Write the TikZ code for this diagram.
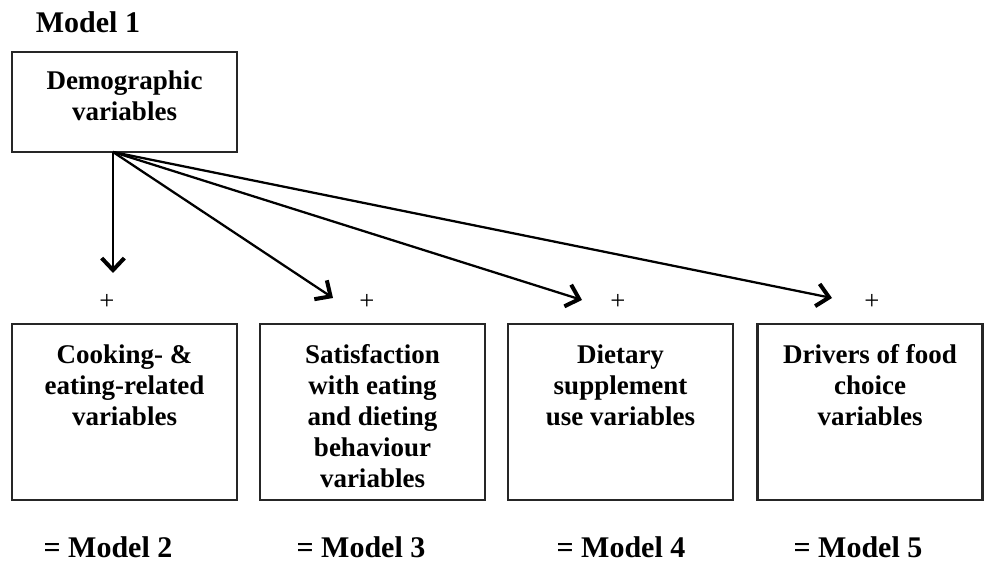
\documentclass[tikz,border=0pt]{standalone}
\usepackage{fontspec}
\setmainfont{Liberation Serif}
\usetikzlibrary{arrows.meta,calc}
\begin{document}
\begin{tikzpicture}[x=0.75pt,y=-0.75pt,
  box/.style={draw=black!85,line width=1.8pt,minimum width=168.75pt,inner sep=0pt},
  boxtext/.style={anchor=north,align=center,inner sep=0pt,font=\fontsize{20.25pt}{23.25pt}\selectfont\bfseries},
  modellabel/.style={anchor=base,inner sep=0pt,font=\fontsize{22.5pt}{27pt}\selectfont\bfseries},
  plus/.style={inner sep=0pt,font=\fontsize{20pt}{20pt}\selectfont},
  arr/.style={line width=1.7pt,-{Straight Barb[length=9pt,width=17pt,line width=3pt]}}]
\useasboundingbox (0,0) rectangle (985,566);
% title
\node[modellabel] (m1) at (88,33) {Model 1};
% top box
\node[box,minimum height=75pt] (demo) at (124.5,102) {};
\node[boxtext] (demot) at (124.5,71) {Demographic\\variables};
% bottom boxes
\node[box,minimum height=132pt] (b1) at (124.5,412) {};
\node[box,minimum height=132pt] (b2) at (372.5,412) {};
\node[box,minimum height=132pt] (b3) at (620.5,412) {};
\node[box,minimum height=132pt] (b4) at (870,412) {};
\node[boxtext] (t1) at (124.5,344) {Cooking- \&\\eating-related\\variables};
\node[boxtext] (t2) at (372.5,344) {Satisfaction\\with eating\\and dieting\\behaviour\\variables};
\node[boxtext] (t3) at (620.5,344) {Dietary\\supplement\\use variables};
\node[boxtext] (t4) at (870,344) {Drivers of food\\choice\\variables};
% plus signs
\node[plus] (p1) at (107,302) {+};
\node[plus] (p2) at (367,302) {+};
\node[plus] (p3) at (618,302) {+};
\node[plus] (p4) at (872,302) {+};
% model labels
\node[modellabel] (m2) at (108,557) {= Model 2};
\node[modellabel] (m3) at (361,557) {= Model 3};
\node[modellabel] (m4) at (621,557) {= Model 4};
\node[modellabel] (m5) at (858,557) {= Model 5};
% arrows
\coordinate (src) at (113,152);
\coordinate (e1) at (113,273);
\coordinate (e2) at (333,298);
\coordinate (e3) at (582,300);
\coordinate (e4) at (832,298);
\draw[arr] (src) -- (e1);
\draw[arr] (src) -- (e2);
\draw[arr] (src) -- (e3);
\draw[arr] (src) -- (e4);
\end{tikzpicture}
\end{document}
